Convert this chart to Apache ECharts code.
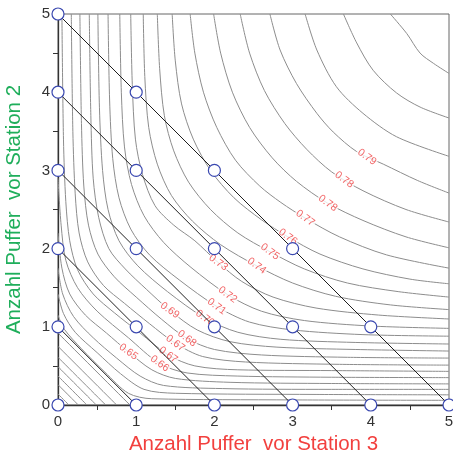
<!DOCTYPE html>
<html>
<head>
<meta charset="utf-8">
<script src="https://cdn.jsdelivr.net/npm/echarts@6/dist/echarts.min.js"></script>
<style>
  html, body { margin: 0; padding: 0; background: #fff; }
  #chart { width: 453px; height: 456px; }
</style>
</head>
<body>
<div id="chart"></div>
<script>
// axis ticks (buffer counts)
const xTicks = [0, 1, 2, 3, 4, 5];
const yTicks = [0, 1, 2, 3, 4, 5];

// buffer allocations with the same total, joined by black lines
const allocations = [
  [[0, 0]],
  [[0, 1], [1, 0]],
  [[0, 2], [1, 1], [2, 0]],
  [[0, 3], [1, 2], [2, 1], [3, 0]],
  [[0, 4], [1, 3], [2, 2], [3, 1], [4, 0]],
  [[0, 5], [1, 4], [2, 3], [3, 2], [4, 1], [5, 0]]
];

// contour lines of the throughput (x = buffers st.3, y = buffers st.2)
const contours = [
  [[4.25, 5], [4.46, 4.75], [4.63, 4.5], [4.80, 4.37], [5, 4.24]],
  [[3.65, 5], [3.82, 4.63], [4.03, 4.28], [4.33, 3.99], [4.63, 3.81], [5, 3.67]],
  [[3.16, 5], [3.31, 4.54], [3.56, 4.07], [3.90, 3.73], [4.33, 3.43], [5, 3.18]],
  [[2.71, 5], [2.84, 4.54], [3.05, 4.11], [3.31, 3.73], [3.52, 3.49], [3.82, 3.24], [4.16, 3.08], [4.6, 2.87], [5, 2.71]],
  [[2.33, 5], [2.45, 4.5], [2.64, 4.02], [2.9, 3.6], [3.18, 3.27], [3.5, 2.98], [3.9, 2.74], [4.45, 2.5], [5, 2.34]],
  [[1.99, 5], [2.08, 4.5], [2.23, 4.0], [2.45, 3.55], [2.74, 3.16], [3.05, 2.86], [3.45, 2.58], [3.9, 2.36], [4.45, 2.15], [5, 2.01]],
  [[1.69, 5], [1.75, 4.5], [1.86, 4.0], [2.03, 3.55], [2.27, 3.13], [2.58, 2.8], [2.85, 2.59], [3.16, 2.39], [3.6, 2.15], [4.2, 1.92], [5, 1.75]],
  [[1.46, 5], [1.50, 4.4], [1.58, 3.85], [1.73, 3.4], [1.95, 3.0], [2.25, 2.65], [2.6, 2.37], [2.94, 2.15], [3.35, 1.93], [3.9, 1.74], [4.5, 1.61], [5, 1.55]],
  [[1.27, 5], [1.30, 4.3], [1.36, 3.7], [1.48, 3.25], [1.67, 2.85], [1.95, 2.5], [2.3, 2.2], [2.71, 1.96], [3.15, 1.74], [3.7, 1.56], [4.35, 1.45], [5, 1.38]],
  [[1.09, 5], [1.11, 4.2], [1.16, 3.55], [1.27, 3.08], [1.45, 2.68], [1.72, 2.35], [2.08, 2.05], [2.54, 1.78], [3.0, 1.56], [3.55, 1.39], [4.25, 1.28], [5, 1.22]],
  [[0.93, 5], [0.95, 4.1], [0.99, 3.4], [1.08, 2.95], [1.24, 2.55], [1.48, 2.3], [1.75, 2.1], [2.05, 1.82], [2.35, 1.58], [2.75, 1.38], [3.3, 1.24], [4.1, 1.15], [5, 1.10]],
  [[0.79, 5], [0.81, 4.0], [0.85, 3.3], [0.94, 2.82], [1.1, 2.42], [1.35, 2.08], [1.7, 1.76], [2.17, 1.41], [2.6, 1.2], [3.15, 1.08], [4.0, 1.01], [5, 0.98]],
  [[0.64, 5], [0.66, 3.9], [0.70, 3.15], [0.78, 2.65], [0.93, 2.25], [1.17, 1.92], [1.55, 1.6], [2.03, 1.26], [2.45, 1.06], [3.0, 0.96], [3.9, 0.9], [5, 0.88]],
  [[0.51, 5], [0.53, 3.8], [0.57, 3.0], [0.64, 2.5], [0.78, 2.1], [1.02, 1.78], [1.4, 1.45], [1.88, 1.11], [2.3, 0.93], [2.85, 0.84], [3.8, 0.8], [5, 0.78]],
  [[0.40, 5], [0.42, 3.7], [0.45, 2.9], [0.52, 2.4], [0.65, 2.0], [0.86, 1.74], [1.13, 1.48], [1.43, 1.21], [1.78, 0.96], [2.2, 0.81], [2.8, 0.74], [3.8, 0.71], [5, 0.69]],
  [[0.28, 5], [0.30, 3.6], [0.33, 2.8], [0.39, 2.3], [0.51, 1.93], [0.72, 1.64], [1.0, 1.38], [1.32, 1.1], [1.65, 0.85], [2.0, 0.71], [2.6, 0.64], [3.7, 0.61], [5, 0.60]],
  [[0.17, 5], [0.19, 3.5], [0.22, 2.7], [0.27, 2.2], [0.38, 1.83], [0.58, 1.53], [0.85, 1.3], [1.17, 1.04], [1.50, 0.79], [1.85, 0.62], [2.4, 0.55], [3.6, 0.52], [5, 0.51]],
  [[0.05, 5], [0.07, 3.4], [0.10, 2.6], [0.15, 2.1], [0.25, 1.73], [0.45, 1.42], [0.72, 1.18], [1.05, 0.92], [1.41, 0.64], [1.75, 0.5], [2.3, 0.45], [3.5, 0.44], [5, 0.43]],
  [[0, 2.9], [0.04, 2.3], [0.1, 1.85], [0.25, 1.5], [0.5, 1.2], [0.9, 0.86], [1.30, 0.53], [1.65, 0.41], [2.3, 0.37], [3.5, 0.355], [5, 0.35]],
  [[0, 2.2], [0.05, 1.75], [0.15, 1.42], [0.35, 1.15], [0.62, 0.92], [0.90, 0.68], [1.2, 0.45], [1.5, 0.34], [2.2, 0.29], [3.5, 0.275], [5, 0.27]],
  [[0, 1.75], [0.06, 1.42], [0.2, 1.13], [0.45, 0.86], [0.75, 0.6], [1.05, 0.37], [1.35, 0.25], [2.1, 0.21], [3.5, 0.2], [5, 0.2]],
  [[0, 1.42], [0.07, 1.17], [0.22, 0.93], [0.5, 0.67], [0.8, 0.4], [1.1, 0.2], [1.5, 0.15], [3.3, 0.135], [5, 0.13]],
  [[0, 1.15], [0.08, 0.97], [0.3, 0.72], [0.6, 0.42], [0.9, 0.15], [1.2, 0.08], [3.0, 0.065], [5, 0.06]],
  [[0, 0.92], [0.92, 0]],
  [[0, 0.75], [0.75, 0]],
  [[0, 0.61], [0.61, 0]],
  [[0, 0.49], [0.49, 0]],
  [[0, 0.37], [0.37, 0]],
  [[0, 0.26], [0.26, 0]],
  [[0, 0.14], [0.14, 0]],
  [[0, 0.04], [0.04, 0]]
];

// contour labels: position and text
const labelPos = [
  [3.95, 3.17], [3.66, 2.88], [3.45, 2.58], [3.16, 2.39], [2.94, 2.15], [2.71, 1.96],
  [2.54, 1.78], [2.05, 1.82], [2.17, 1.41], [2.03, 1.26], [1.88, 1.11], [1.43, 1.21],
  [1.65, 0.85], [1.50, 0.79], [1.41, 0.64], [1.30, 0.53], [0.90, 0.68]
];
const labelText = [
  '0.79', '0.78', '0.78', '0.77', '0.76', '0.75',
  '0.74', '0.73', '0.72', '0.71', '0.70', '0.69',
  '0.68', '0.67', '0.67', '0.66', '0.65'
];

const chart = echarts.init(document.getElementById('chart'));

const font = 'Liberation Sans, Arial, sans-serif';
const series = [];

contours.forEach((pts, i) => {
  series.push({
    name: 'c' + i,
    type: 'line',
    data: pts,
    symbol: 'none',
    smooth: 0.3,
    silent: true,
    lineStyle: { color: '#8d8d8d', width: 1 },
    z: 1
  });
});

series.push({
  type: 'scatter',
  data: labelPos.map((p, i) => [p[0], p[1], labelText[i]]),
  symbolSize: 0,
  silent: true,
  z: 3,
  label: {
    show: true,
    position: 'inside',
    formatter: p => p.value[2],
    rotate: -36,
    color: '#ef3d3f',
    fontSize: 10.5,
    fontFamily: font,
    backgroundColor: '#fff',
    padding: [0, 1]
  }
});

allocations.forEach(pts => {
  series.push({
    type: 'line',
    data: pts,
    symbol: 'circle',
    symbolSize: 12,
    showSymbol: true,
    clip: false,
    silent: true,
    lineStyle: { color: '#1e1e1e', width: 1 },
    itemStyle: { color: '#fff', borderColor: '#3a48b0', borderWidth: 1.2 },
    z: 5
  });
});

const axisCommon = {
  type: 'value',
  min: 0,
  max: 5,
  interval: 1,
  nameLocation: 'middle',
  axisLine: { lineStyle: { color: '#333', width: 1.3 } },
  axisTick: { show: true, length: 5, lineStyle: { color: '#333' } },
  minorTick: { show: true, splitNumber: 2, length: 5, lineStyle: { color: '#333' } },
  splitLine: { show: false },
  minorSplitLine: { show: false },
  axisLabel: { fontSize: 15, color: '#333', fontFamily: font }
};

chart.setOption({
  animation: false,
  grid: {
    left: 58, top: 14, right: 4, bottom: 51,
    outerBoundsMode: 'none',
    show: true, borderColor: '#666', borderWidth: 1
  },
  xAxis: Object.assign({}, axisCommon, {
    name: 'Anzahl Puffer  vor Station 3',
    nameGap: 28,
    nameTextStyle: { color: '#f2403e', fontSize: 20.5, fontFamily: font },
    axisLabel: Object.assign({}, axisCommon.axisLabel, { margin: 9, formatter: v => xTicks.includes(v) ? String(v) : '' })
  }),
  yAxis: Object.assign({}, axisCommon, {
    name: 'Anzahl Puffer  vor Station 2',
    nameGap: 33,
    nameTextStyle: { color: '#1fae5b', fontSize: 20.5, fontFamily: font },
    axisLabel: Object.assign({}, axisCommon.axisLabel, { margin: 8, formatter: v => yTicks.includes(v) ? String(v) : '' })
  }),
  series: series
});
</script>
</body>
</html>
